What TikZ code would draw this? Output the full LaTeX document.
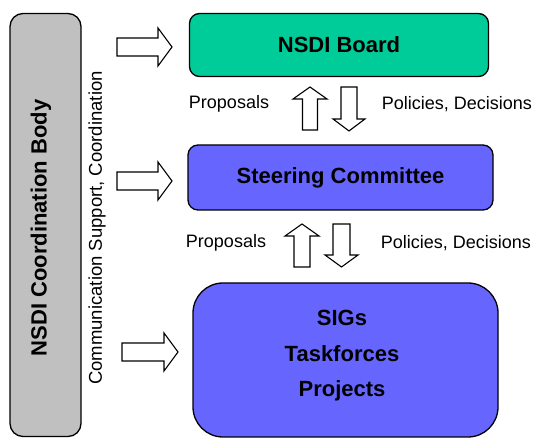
\documentclass[tikz,border=0pt]{standalone}
\usepackage{fontspec}
\setmainfont{Liberation Sans}
\definecolor{boardgreen}{HTML}{00CC99}
\definecolor{steerblue}{HTML}{6666FF}
\definecolor{bodygray}{HTML}{C0C0C0}
\tikzset{
  box/.style={draw=black, line width=1.3pt, inner sep=0pt, align=center},
  bigtext/.style={font=\fontsize{22}{26}\selectfont\bfseries, align=center},
  smalltext/.style={font=\fontsize{18}{21}\selectfont, inner sep=0pt},
  blockarrow/.style={draw=black, line width=1.1pt, fill=white, line join=miter},
}
\begin{document}
\begin{tikzpicture}[x=1pt,y=-1pt]
\useasboundingbox (0,0) rectangle (536,438);
% boxes
\node[box, fill=bodygray, rounded corners=13pt, minimum width=71pt, minimum height=423pt] (body) at (45.5,225) {};
\node[bigtext, rotate=90] (bodytext) at (41,228) {NSDI Coordination Body};
\node[smalltext, rotate=90, font=\fontsize{18.5}{21}\selectfont] (comm) at (97,228) {Communication Support, Coordination};

\node[box, bigtext, fill=boardgreen, rounded corners=10pt, minimum width=299pt, minimum height=63pt] (board) at (339,45) {NSDI Board};
\node[box, bigtext, fill=steerblue, rounded corners=10pt, minimum width=305pt, minimum height=65pt] (steer) at (340.5,177.5) {Steering Committee};
\node[box, fill=steerblue, rounded corners=30pt, minimum width=305pt, minimum height=154pt] (sigs) at (345.5,360) {};
\node[bigtext] (sigtext) at (342,356) {SIGs\\[9.5pt]Taskforces\\[9.5pt]Projects};

% labels
\node[smalltext] (prop1) at (229,104) {Proposals};
\node[smalltext] (pol1) at (457,104) {Policies, Decisions};
\node[smalltext] (prop2) at (226,243) {Proposals};
\node[smalltext] (pol2) at (456,243) {Policies, Decisions};

% right block arrows from coordination body
\draw[blockarrow] (117,38)--(158,38)--(158,28)--(172,47)--(158,66)--(158,56)--(117,56)--cycle;
\draw[blockarrow] (117,172)--(158,172)--(158,162)--(172,181)--(158,200)--(158,190)--(117,190)--cycle;
\draw[blockarrow] (122,343)--(164,343)--(164,333)--(178,352)--(164,371)--(164,361)--(122,361)--cycle;

% vertical arrows, upper pair
\draw[blockarrow] (302.5,130)--(302.5,99)--(293,99)--(310,87)--(327,99)--(317.5,99)--(317.5,130)--cycle;
\draw[blockarrow] (341,87)--(357,87)--(357,119)--(365,119)--(349,131)--(333,119)--(341,119)--cycle;
% vertical arrows, lower pair
\draw[blockarrow] (294,267)--(294,236)--(285,236)--(302,224)--(319,236)--(310,236)--(310,267)--cycle;
\draw[blockarrow] (333,224)--(350,224)--(350,255)--(358,255)--(341.5,267)--(325,255)--(333,255)--cycle;
\end{tikzpicture}
\end{document}
